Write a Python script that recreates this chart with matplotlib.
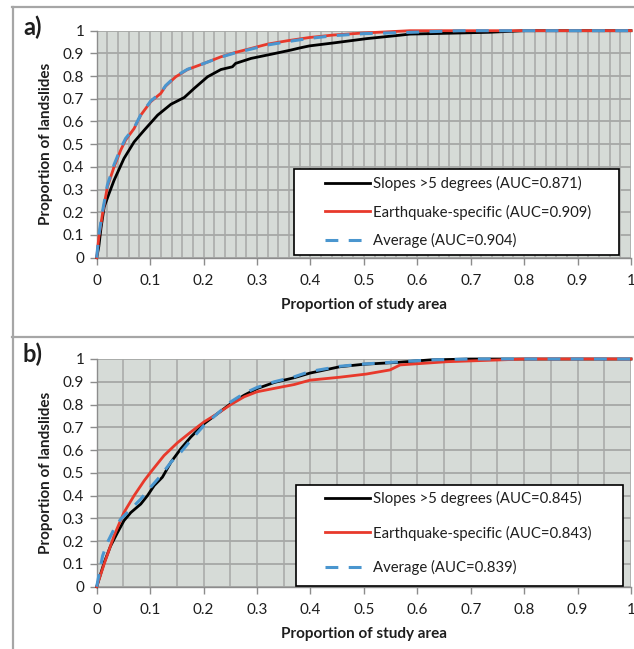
import matplotlib
matplotlib.use("Agg")
import matplotlib.pyplot as plt
from matplotlib.lines import Line2D
from matplotlib.patches import Rectangle
import numpy as np

plt.rcParams['font.family'] = ['Lato', 'DejaVu Sans']

# ---------------- Data ----------------
# Panel a
xa_slope = [0, 0.004, 0.008, 0.014, 0.023, 0.0325, 0.051, 0.07, 0.089, 0.114, 0.139, 0.164,
            0.1825, 0.2075, 0.2325, 0.254, 0.26, 0.289, 0.326, 0.364, 0.38, 0.398, 0.443,
            0.505, 0.567, 0.586, 0.68, 0.735, 0.8, 1.0]
ya_slope = [0, 0.05, 0.13, 0.224, 0.282, 0.341, 0.437, 0.51, 0.562, 0.628, 0.676, 0.706,
            0.746, 0.797, 0.829, 0.841, 0.856, 0.878, 0.896, 0.915, 0.924, 0.933, 0.946,
            0.965, 0.98, 0.985, 0.99, 0.993, 1.0, 1.0]

xa_eq = [0, 0.004, 0.011, 0.02, 0.0325, 0.045, 0.054, 0.07, 0.0825, 0.101, 0.12, 0.129,
         0.148, 0.17, 0.201, 0.2325, 0.2575, 0.289, 0.32, 0.3575, 0.398, 0.443, 0.5,
         0.586, 1.0]
ya_eq = [0, 0.09, 0.194, 0.312, 0.40, 0.474, 0.518, 0.569, 0.628, 0.687, 0.724, 0.756,
         0.797, 0.829, 0.856, 0.885, 0.903, 0.922, 0.941, 0.956, 0.970, 0.981, 0.99,
         1.0, 1.0]

xa_avg = [0, 0.004, 0.011, 0.02, 0.0325, 0.045, 0.054, 0.07, 0.0825, 0.101, 0.12, 0.129,
          0.148, 0.17, 0.201, 0.2325, 0.2575, 0.289, 0.32, 0.3575, 0.398, 0.443, 0.5,
          0.59, 0.68, 1.0]
ya_avg = [0, 0.10, 0.205, 0.32, 0.41, 0.482, 0.525, 0.572, 0.63, 0.69, 0.727, 0.758,
          0.80, 0.83, 0.856, 0.884, 0.901, 0.919, 0.937, 0.952, 0.966, 0.978, 0.987,
          0.993, 1.0, 1.0]

# Panel b
xb_slope = [0, 0.014, 0.026, 0.039, 0.051, 0.064, 0.0825, 0.095, 0.1075, 0.123, 0.139,
            0.1575, 0.176, 0.201, 0.226, 0.251, 0.276, 0.30, 0.3325, 0.37, 0.399, 0.455,
            0.50, 0.562, 0.624, 0.70, 1.0]
yb_slope = [0, 0.106, 0.179, 0.238, 0.29, 0.326, 0.363, 0.40, 0.444, 0.481, 0.547,
            0.606, 0.657, 0.716, 0.76, 0.804, 0.841, 0.87, 0.897, 0.918, 0.938, 0.966,
            0.977, 0.985, 0.996, 1.0, 1.0]

xb_eq = [0, 0.014, 0.0325, 0.051, 0.07, 0.089, 0.101, 0.126, 0.151, 0.176, 0.201, 0.226,
         0.251, 0.276, 0.30, 0.3325, 0.37, 0.399, 0.455, 0.505, 0.549, 0.568, 0.655,
         0.767, 0.80, 1.0]
yb_eq = [0, 0.10, 0.224, 0.326, 0.40, 0.466, 0.503, 0.576, 0.632, 0.679, 0.724, 0.76,
         0.80, 0.834, 0.856, 0.871, 0.888, 0.907, 0.92, 0.934, 0.952, 0.974, 0.988,
         0.997, 1.0, 1.0]

xb_avg = [0, 0.011, 0.02, 0.0325, 0.045, 0.064, 0.0825, 0.101, 0.12, 0.139, 0.1575,
          0.176, 0.201, 0.226, 0.251, 0.276, 0.30, 0.3325, 0.37, 0.399, 0.455, 0.50,
          0.562, 0.624, 0.70, 1.0]
yb_avg = [0, 0.135, 0.194, 0.253, 0.297, 0.341, 0.385, 0.437, 0.488, 0.547, 0.591,
          0.643, 0.709, 0.76, 0.812, 0.849, 0.875, 0.90, 0.922, 0.945, 0.968, 0.978,
          0.987, 0.996, 1.0, 1.0]

labels_a = ['Slopes >5 degrees (AUC=0.871)', 'Earthquake-specific (AUC=0.909)',
            'Average (AUC=0.904)']
labels_b = ['Slopes >5 degrees (AUC=0.845)', 'Earthquake-specific (AUC=0.843)',
            'Average (AUC=0.839)']
major_ticks = [0, 0.1, 0.2, 0.3, 0.4, 0.5, 0.6, 0.7, 0.8, 0.9, 1.0]
tick_labels = ['0', '0.1', '0.2', '0.3', '0.4', '0.5', '0.6', '0.7', '0.8', '0.9', '1']

# ---------------- Styling ----------------
W, H = 634, 649
fig = plt.figure(figsize=(W / 100, H / 100), dpi=100)

BG = '#d6dbd7'
GRID = '#a6a8a6'
SPINE = '#8c8c8c'
BORDER = '#a6a6a6'
RED = '#e8392b'
BLUE = '#4a96cf'
TXT = '#1e1e1e'


def fx(px):
    return px / W


def fy(py):
    return 1 - py / H


def make_panel(rect_px, xs, ys, labels, minor_step, leg_rect, leg_anchor, spacing, panel_label, plabel_pos):
    l, t, r, b = rect_px
    ax = fig.add_axes([fx(l), fy(b), fx(r) - fx(l), fy(t) - fy(b)])
    ax.set_facecolor(BG)
    ax.set_xlim(0, 1)
    ax.set_ylim(0, 1)
    # grid
    vlines = np.arange(0, 1.0001, minor_step)
    for v in vlines:
        ax.axvline(v, color=GRID, lw=1.1, zorder=0.5)
    for h in major_ticks:
        ax.axhline(h, color=GRID, lw=1.3, zorder=0.5)
    for s in ['top', 'right']:
        ax.spines[s].set_visible(False)
    for s in ['left', 'bottom']:
        ax.spines[s].set_color(SPINE)
        ax.spines[s].set_linewidth(1.0)
    ax.set_xticks(major_ticks)
    ax.set_xticklabels(tick_labels)
    ax.set_yticks(major_ticks)
    ax.set_yticklabels(tick_labels)
    ax.tick_params(axis='x', direction='out', length=5, width=1, color=SPINE,
                   labelsize=11, pad=7, labelcolor=TXT)
    ax.tick_params(axis='y', direction='out', length=5, width=1, color=SPINE,
                   labelsize=11, pad=4, labelcolor=TXT)

    h1, = ax.plot(xs[0], ys[0], color='black', lw=2.0, zorder=3, label=labels[0])
    h2, = ax.plot(xs[1], ys[1], color=RED, lw=2.0, zorder=3.1, label=labels[1])
    h3, = ax.plot(xs[2], ys[2], color=BLUE, lw=2.2, zorder=3.2, label=labels[2],
                  dashes=(4.2, 3.4))
    for hh in (h1, h2, h3):
        hh.set_clip_on(False)

    ax.set_xlabel('Proportion of study area', fontsize=11, fontweight='bold', labelpad=7,
                  color=TXT)
    ax.set_ylabel('Proportion of landslides', fontsize=11, fontweight='bold', labelpad=7,
                  color=TXT)

    # legend box
    lx0, ly0, lx1, ly1 = leg_rect
    ax0 = (lx0 - l) / (r - l)
    ay0 = (b - ly1) / (b - t)
    aw = (lx1 - lx0) / (r - l)
    ah = (ly1 - ly0) / (b - t)
    ax.add_patch(Rectangle((ax0, ay0), aw, ah, transform=ax.transAxes, facecolor='white',
                           edgecolor='black', lw=1.2, zorder=5, clip_on=False))
    ancx = (leg_anchor[0] - l) / (r - l)
    ancy = (b - leg_anchor[1]) / (b - t)
    leg = ax.legend(handles=[h1, h2, h3], loc='center left', bbox_to_anchor=(ancx, ancy),
                    frameon=False, fontsize=10.7, handlelength=3.0, handletextpad=0.25,
                    labelspacing=spacing, borderpad=0, borderaxespad=0)
    for tx in leg.get_texts():
        tx.set_color(TXT)
    leg.set_zorder(6)

    fig.text(fx(plabel_pos[0]), fy(plabel_pos[1]), panel_label, fontsize=17,
             fontweight='bold', ha='center', va='center', color=TXT)
    return ax


make_panel((96.7, 30.7, 631, 257.7), [xa_slope, xa_eq, xa_avg], [ya_slope, ya_eq, ya_avg],
           labels_a, 0.02, (294, 169, 619, 255), (325, 212), 0.9, 'a)', (33, 27))
make_panel((96.7, 359, 631, 586.7), [xb_slope, xb_eq, xb_avg], [yb_slope, yb_eq, yb_avg],
           labels_b, 0.05, (296, 485, 623, 586), (325, 533), 1.3, 'b)', (33, 354))

# panel borders
fig.add_artist(Line2D([fx(12.5), fx(12.5)], [fy(7), fy(649)], color=BORDER, lw=1.6,
                      transform=fig.transFigure))
fig.add_artist(Line2D([fx(12), fx(634)], [fy(7.3), fy(7.3)], color=BORDER, lw=1.6,
                      transform=fig.transFigure))
fig.add_artist(Line2D([fx(12), fx(634)], [fy(336.7), fy(336.7)], color=BORDER, lw=1.6,
                      transform=fig.transFigure))

fig.savefig('out.png', dpi=100)
